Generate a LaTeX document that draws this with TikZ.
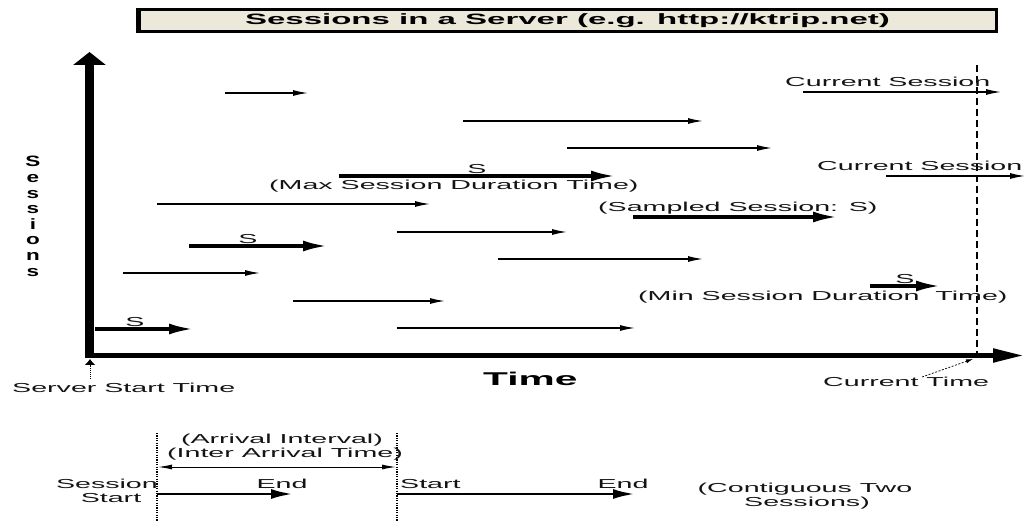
\documentclass[tikz,border=0pt]{standalone}
\usepackage{fontspec}
\setmainfont{Liberation Sans}
\newfontfamily\wf[FakeStretch=2.2]{Liberation Sans}
\newfontfamily\vf[FakeStretch=1.5]{Liberation Sans}
\usetikzlibrary{arrows.meta}
\definecolor{titlefill}{RGB}{236,233,218}
\begin{document}
\begin{tikzpicture}[x=1pt,y=-1pt,
  lbl/.style={font=\wf\fontsize{13}{15}\selectfont, inner sep=0pt, text=black!92},
  slbl/.style={font=\wf\fontsize{13}{15}\selectfont, inner sep=0pt, text=black!92, anchor=base},
  vlet/.style={font=\vf\bfseries\fontsize{15}{16}\selectfont, inner sep=0pt, anchor=base},
  thinarr/.style={line width=1.3pt, -{Latex[length=15pt,width=6pt]}},
  thickarr/.style={line width=3.2pt, -{Latex[length=24pt,width=11pt]}},
  dotline/.style={line width=2pt, dash pattern=on 1.2pt off 1.2pt},
]
\useasboundingbox (0,0) rectangle (1026,521);

% title
\node[draw, line width=3pt, fill=titlefill, minimum width=858pt, minimum height=22pt,
      inner sep=0pt, font=\wf\bfseries\fontsize{15}{16}\selectfont] (title) at (567.5,20.5)
      {Sessions in a Server (e.g. http://ktrip.net)};
\draw[line width=5pt] ([xshift=1.5pt]title.north west) -- ([xshift=1.5pt]title.south west);

% axes
\coordinate (ybot) at (89.5,358);
\coordinate (ytip) at (89.5,52);
\coordinate (xbeg) at (85,355.5);
\coordinate (xtip) at (1024,355.5);
\draw[line width=9pt, -{Triangle[length=13pt,width=32pt]}] (ybot) -- (ytip);
\draw[line width=5pt, -{Triangle[length=31pt,width=13pt]}] (xbeg) -- (xtip);

% vertical axis label
\foreach \ch [count=\i] in {S,e,s,s,i,o,n,s}
  \node[vlet] (v\i) at (33,{167+15.6*(\i-1)}) {\ch};

% current time dashed line
\coordinate (dtop) at (977,65);
\coordinate (dbot) at (977,356);
\draw[line width=1.8pt, dash pattern=on 7pt off 4pt] (dtop) -- (dbot);

% thin session arrows
\foreach \n/\xa/\xb/\yy in {a/225/308/93, b/463/703/121, c/567/772/148, d/157/430/204,
    e/397/567/232, f/123/260/273, g/498/703/259, h/293/445/301, i/397/635/328,
    j/803/1001/92, k/886/1025/176}{
  \coordinate (\n s) at (\xa,\yy);
  \coordinate (\n e) at (\xb,\yy);
  \draw[thinarr] (\n s) -- (\n e);
}

% thick sampled session arrows
\foreach \n/\xa/\xb/\yy in {ma/339/615/176, sb/189/327/246, sa/633/837/217,
    mi/870/940/286, so/95/193/329}{
  \coordinate (\n s) at (\xa,\yy);
  \coordinate (\n e) at (\xb,\yy);
  \draw[thickarr] (\n s) -- (\n e);
}

% S labels
\node[slbl] (s1) at (477,174) {S};
\node[slbl] (s2) at (248,244) {S};
\node[slbl] (s3) at (135,327) {S};
\node[slbl] (s4) at (905,284) {S};

% text labels
\node[lbl, anchor=base west] (cs1) at (785,87) {Current Session};
\node[lbl, anchor=base west] (cs2) at (817,171) {Current Session};
\node[lbl, anchor=base west] (maxl) at (269,190) {(Max Session Duration Time)};
\node[lbl, anchor=base west] (sampl) at (598,212) {(Sampled Session: S)};
\node[lbl, anchor=base west] (minl) at (638,301) {(Min Session Duration\ \ Time)};
\node[lbl, anchor=base west] (sst) at (12,392) {Server Start Time};
\node[lbl, anchor=base west] (ctime) at (823,387) {Current Time};
\node[anchor=base west, inner sep=0pt, font=\wf\bfseries\fontsize{18.5}{20}\selectfont] (timel) at (483,385) {Time};

% pointers
\coordinate (ssa) at (90,379);
\coordinate (ssb) at (90,359);
\draw[line width=0.8pt, dash pattern=on 1pt off 1pt, -{Latex[length=6pt,width=11pt]}] (ssa) -- (ssb);
\coordinate (cta) at (922,377);
\coordinate (ctb) at (973,359);
\draw[line width=0.7pt, dash pattern=on 2pt off 1.5pt, -{Latex[length=7pt,width=4pt]}] (cta) -- (ctb);

% bottom legend
\coordinate (l1t) at (157,433);
\coordinate (l1b) at (157,521);
\coordinate (l2t) at (397,433);
\coordinate (l2b) at (397,521);
\draw[dotline] (l1t) -- (l1b);
\draw[dotline] (l2t) -- (l2b);
\node[lbl, anchor=base] (arr1) at (282,443) {(Arrival Interval)};
\node[lbl, anchor=base] (arr2) at (285,457) {(Inter Arrival Time)};
\coordinate (dbl1) at (158,467);
\coordinate (dbl2) at (396,467);
\draw[line width=1pt, {Latex[length=14pt,width=5pt]}-{Latex[length=14pt,width=5pt]}] (dbl1) -- (dbl2);
\node[lbl, anchor=base east] (sess) at (158,488) {Session};
\node[lbl, anchor=base] (sstart) at (111,502) {Start};
\node[lbl, anchor=base] (end1) at (282,488) {End};
\node[lbl, anchor=base west] (start2) at (400,488) {Start};
\node[lbl, anchor=base] (end2) at (623,488) {End};
\coordinate (b1s) at (157,494);
\coordinate (b1e) at (293,494);
\coordinate (b2s) at (397,494);
\coordinate (b2e) at (635,494);
\draw[line width=2.8pt, -{Latex[length=22pt,width=10pt]}] (b1s) -- (b1e);
\draw[line width=2.8pt, -{Latex[length=22pt,width=10pt]}] (b2s) -- (b2e);
\node[lbl, anchor=base] (cont1) at (805,492) {(Contiguous Two};
\node[lbl, anchor=base] (cont2) at (807,506) {Sessions)};
\end{tikzpicture}
\end{document}
